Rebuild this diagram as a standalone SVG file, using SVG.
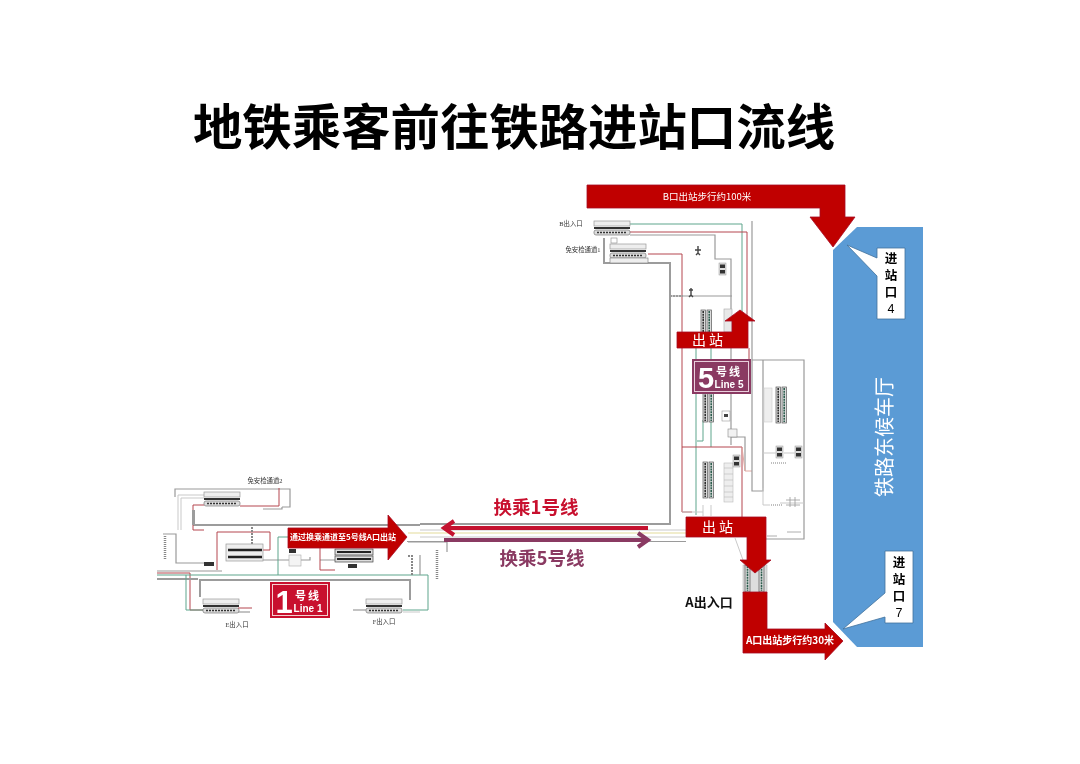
<svg xmlns="http://www.w3.org/2000/svg" width="1080" height="764" viewBox="0 0 1080 764">
<style>
text{font-family:"Noto Sans CJK SC","Liberation Sans",sans-serif}
.g{fill:none;stroke:#9a9a9a;stroke-width:1.2}
.G{fill:none;stroke:#9c9c9c;stroke-width:2}
.l{fill:none;stroke:#c9c9c9;stroke-width:1}
.r{fill:none;stroke:#b5474f;stroke-width:1}
.n{fill:none;stroke:#5fa58c;stroke-width:1}
.y{fill:none;stroke:#e3dc9a;stroke-width:1.2}
.p{fill:none;stroke:#e2a9a2;stroke-width:1}
.w{fill:#c00000;stroke:#a60a22;stroke-width:.8}
.t{fill:#fff;text-anchor:middle}
.s{fill:#333;font-size:6.4px;text-anchor:middle;font-family:"Liberation Serif","Noto Sans CJK SC",serif}
.c{fill:#000;font-size:12.5px;font-weight:700;text-anchor:middle}
.d{font-family:"Liberation Sans",sans-serif;font-weight:400}
</style>
<defs>
<filter id="soft" x="-5%" y="-5%" width="110%" height="110%"><feGaussianBlur stdDeviation=".35"/></filter>
<g id="sh">
<rect x="0" y="0" width="36" height="5" fill="#eee" stroke="#999" stroke-width=".7"/>
<rect x="0" y="6" width="36" height="2" fill="#333"/>
<rect x="0" y="9" width="36" height="5" fill="#ddd" stroke="#777" stroke-width=".7" rx="2"/>
<path d="M3 11.5H33" stroke="#333" stroke-width="1.4" stroke-dasharray="2 1"/>
</g>
<g id="sv">
<rect x="0" y="0" width="4.5" height="36" fill="#dcdcdc" stroke="#555" stroke-width=".7"/>
<rect x="6" y="0" width="4.5" height="36" fill="#dcdcdc" stroke="#555" stroke-width=".7"/>
<path d="M2.2 1V35" stroke="#2f2f2f" stroke-width="1.6" stroke-dasharray="2 .7"/>
<path d="M8.2 1V35" stroke="#2f5f50" stroke-width="1.6" stroke-dasharray="2 .7"/>
</g>
<g id="m"><rect x="0" y="0" width="7" height="12" fill="#ddd" stroke="#999" stroke-width=".5"/><rect x="1" y="1.5" width="5" height="3.5" fill="#333"/><rect x="1" y="7" width="5" height="3.5" fill="#333"/></g>
</defs>

<text x="514" y="145" font-size="49.4" font-weight="700" text-anchor="middle" fill="#000">地铁乘客前往铁路进站口流线</text>

<g id="plan" filter="url(#soft)">
<path class="n" d="M630 224H742V320"/>
<path class="r" d="M630 232H747V332"/>
<path class="g" d="M752 221V360"/>
<path class="G" d="M604 238V263H670V524H420"/>
<path class="r" d="M648 254H682V512H692"/>
<path class="g" d="M630 235H715V259H731V332"/>
<path class="g" d="M670 296H732"/>
<path class="G" d="M670 296H683" stroke-dasharray="2 1"/>
<use href="#sh" x="594" y="221"/>
<use href="#sh" x="610" y="244"/>
<rect x="610" y="258" width="38" height="5" fill="#eee" stroke="#888" stroke-width=".7"/>
<rect x="611" y="238" width="6" height="5" fill="#fff" stroke="#888" stroke-width=".6"/>
<use href="#m" x="719" y="263"/>
<path d="M698 246v7m-3-3h6m-5 5l2-2 2 2" stroke="#444" stroke-width="1.4" fill="none"/>
<path d="M691 288v7m-2-5h4m-4 7l2-2 2 2" stroke="#444" stroke-width="1.4" fill="none"/>
<use href="#sv" x="701" y="310"/>
<rect x="724" y="309" width="8" height="23" fill="#e8e8e8" stroke="#aaa" stroke-width=".6"/>
<path class="n" d="M696 348V515"/>
<path class="n" d="M711 348V363M711 420V447"/>
<path class="n" d="M703 420V441H697" stroke-width="1.3"/>
<path class="g" d="M731 348V445"/>
<path class="r" d="M682 447H742V517"/>
<path class="r" d="M749 348V360"/>
<path class="g" d="M731 437H745V471"/>
<path class="p" d="M742 447L745 471H752"/>
<path class="l" d="M682 512H703M711 505V516M703 505V516"/>
<use href="#sv" x="703" y="386"/>
<use href="#sv" x="703" y="462"/>
<rect x="724" y="463" width="9" height="39" fill="#eee" stroke="#bbb" stroke-width=".6"/>
<path d="M724 468h9M724 474h9M724 480h9M724 486h9M724 492h9M724 497h9" stroke="#bbb" stroke-width=".6"/>
<rect x="722" y="411" width="8" height="10" fill="#fff" stroke="#999" stroke-width=".6"/>
<rect x="724" y="414" width="4" height="3" fill="#444"/>
<rect x="728" y="429" width="9" height="8" fill="#f2f2f2" stroke="#888" stroke-width=".6"/>
<use href="#m" x="733" y="455"/>
<path class="g" d="M752 360H804V539H766"/>
<path class="g" d="M752 360V491H763V360"/>
<path class="l" d="M763 488V505H770M780 503H804"/>
<rect x="764" y="388" width="8" height="34" fill="#eee" stroke="#ccc" stroke-width=".6"/>
<use href="#sv" x="776" y="387"/>
<use href="#m" x="776" y="446"/><use href="#m" x="795" y="446"/>
<path class="l" d="M763 453H776M784 453H795"/>
<path d="M771 463h16M771 505h12" stroke="#aaa" stroke-width="1.500" stroke-dasharray="1 1"/>
<path d="M786 500h14M786 505h14M790 497v10M795 497v10M767 536h10M787 532h14" stroke="#999" stroke-width=".8"/>
<path class="G" d="M194 510V525H420"/>
<path class="y" d="M408 533H686"/>
<path class="l" d="M420 530H686M420 537H686"/>
<path class="g" d="M407 541.500H686"/>
<path class="l" d="M735 538L743 560M749 537L752 560"/>
<path class="g" d="M408 542H447V552"/>
<path class="g" d="M175 497V489H290V507H282M282 507V509H263"/>
<path class="l" d="M178 530V495H204"/>
<path class="l" d="M181 530V498H204"/>
<path class="r" d="M204 505H193V530H204"/>
<path class="G" d="M193 510V525"/>
<path class="r" d="M240 506H279V488"/>
<use href="#sh" x="204" y="492"/>
<path class="g" d="M163 534H176V563H210"/>
<path d="M165 536V560" stroke="#888" stroke-width="2.500" stroke-dasharray="1 1"/>
<rect x="204" y="562" width="10" height="4" fill="#333"/>
<path class="r" d="M217 532H270V550H263"/>
<path class="r" d="M217 532V570"/>
<path d="M252 527V544" stroke="#888" stroke-width="2" stroke-dasharray="2 1"/>
<rect x="226" y="544" width="37" height="17" fill="#eee" stroke="#999" stroke-width=".7"/>
<path d="M228 550H262M228 557H262" stroke="#222" stroke-width="2.400"/>
<path class="g" d="M157 571H222"/>
<path class="r" d="M157 573H190V610H203"/>
<path class="n" d="M157 575H428V610H403"/>
<path class="G" d="M157 579H198"/>
<path class="G" d="M200 597V580H410V600"/>
<path class="n" d="M186 575V610H203"/>
<use href="#sh" x="203" y="599"/>
<path class="r" d="M238 608H252"/><path class="g" d="M238 612H250"/>
<use href="#sh" x="366" y="599"/>
<path class="g" d="M353 610H366"/>
<path class="l" d="M403 612H420"/>
<path class="g" d="M263 560H310V557M320 560H335"/>
<rect x="289" y="555" width="12" height="11" fill="#f4f4f4" stroke="#aaa" stroke-width=".6"/>
<rect x="289" y="549" width="7" height="4" fill="#333"/>
<rect x="335" y="549" width="38" height="6" fill="#ddd" stroke="#444" stroke-width=".7"/>
<rect x="335" y="556" width="38" height="6" fill="#ddd" stroke="#444" stroke-width=".7"/>
<path d="M337 552H371M337 559H371" stroke="#222" stroke-width="2"/>
<rect x="348" y="564" width="9" height="4" fill="#333"/>
<path class="r" d="M320 548V570H335"/>
<path class="n" d="M278 575V537H288"/>
<path class="g" d="M420 555V575"/>
<path d="M437 550V580" stroke="#888" stroke-width="2.500" stroke-dasharray="1 1"/>
<path d="M408 556H412V575" stroke="#888" stroke-width="2" stroke-dasharray="2 1" fill="none"/>
<rect x="743" y="565" width="24" height="28" fill="#ddd" stroke="#aaa" stroke-width=".5"/>
<rect x="745" y="565" width="5" height="27" fill="#dcdcdc" stroke="#555" stroke-width=".7"/>
<path d="M747.500 566V591" stroke="#2f5f50" stroke-width="1.600" stroke-dasharray="2 .7"/>
<rect x="759" y="565" width="5" height="27" fill="#dcdcdc" stroke="#555" stroke-width=".7"/>
<path d="M761.500 566V591" stroke="#2f5f50" stroke-width="1.600" stroke-dasharray="2 .7"/>
</g>

<g id="labels-plan">
<text class="s" x="571" y="226">B出入口</text>
<text class="s" x="583" y="252">免安检通道1</text>
<text class="s" x="265" y="483">免安检通道2</text>
<text class="s" x="237" y="627">E出入口</text>
<text class="s" x="384" y="624">F出入口</text>
</g>

<g id="hall">
<path d="M857 227H923V647H857L833 622V250Z" fill="#5b9bd5"/>
<text transform="translate(892 437) rotate(-90)" font-size="20" fill="#fff" text-anchor="middle">铁路东候车厅</text>
</g>

<g id="gate-4">
<path d="M847 245L877 258V248H905V319H877V276Z" fill="#fff" stroke="#41719c" stroke-width=".8"/>
<text class="c" x="891" y="263">进</text><text class="c" x="891" y="280">站</text><text class="c" x="891" y="297">口</text><text class="c d" x="891" y="313">4</text>
</g>
<g id="gate-7">
<path d="M843 629L885 593V551H913V623H885V617Z" fill="#fff" stroke="#41719c" stroke-width=".8"/>
<text class="c" x="899" y="567">进</text><text class="c" x="899" y="584">站</text><text class="c" x="899" y="601">口</text><text class="c d" x="899" y="617">7</text>
</g>

<g id="arrow-b">
<path class="w" d="M587 185H845V217H855L833 247L810 217H820V208H587Z"/>
<text class="t" x="707" y="200" font-size="9.500">B口出站步行约100米</text>
</g>
<g id="arrow-up">
<path class="w" d="M677 332H732V321H725L740 310L755 321H748V348H677Z"/>
<text class="t" x="709" y="345" font-size="14" letter-spacing="3">出站</text>
</g>
<g id="arrow-down">
<path class="w" d="M686 517H766V560H771L755 573L740 560H747V537H686Z"/>
<text class="t" x="719" y="532" font-size="14" letter-spacing="3">出站</text>
</g>
<g id="arrow-a">
<path class="w" d="M743 592H767V629H825V623L843 641L825 660V653H743Z"/>
<text class="t" x="790" y="644" font-size="10" font-weight="700">A口出站步行约30米</text>
</g>
<text x="709" y="607" font-size="13" font-weight="700" text-anchor="middle" fill="#111">A出入口</text>

<g id="arrow-transfer">
<path class="w" d="M288 528H388V515L407 537L388 560V548H288Z"/>
<text class="t" x="343" y="540" font-size="8" font-weight="700">通过换乘通道至5号线A口出站</text>
</g>

<g id="connectors" fill="none" stroke-width="4">
<path d="M648 528H447" stroke="#c4122f"/>
<path d="M454 521L444 528L454 535" stroke="#c4122f"/>
<path d="M444 540H647" stroke="#8a3a62"/>
<path d="M638 533L648 540L638 547" stroke="#8a3a62"/>
</g>
<text x="536" y="514" font-size="18.500" font-weight="700" text-anchor="middle" fill="#c8102e">换乘1号线</text>
<text x="542" y="565" font-size="18.500" font-weight="700" text-anchor="middle" fill="#8a3a62">换乘5号线</text>

<g id="badge-5">
<rect x="692" y="359" width="59" height="35" fill="#8a3a62"/>
<rect x="694.500" y="361.500" width="54" height="30" fill="none" stroke="#e9cfdc" stroke-width="1"/>
<text x="706" y="388" font-size="29" font-weight="700" fill="#fff" text-anchor="middle" style="font-family:'Liberation Sans',sans-serif">5</text>
<text x="729" y="376" font-size="11" font-weight="700" fill="#fff" text-anchor="middle" letter-spacing="2">号线</text>
<text x="729" y="388" font-size="10" font-weight="700" fill="#fff" text-anchor="middle" style="font-family:'Liberation Sans',sans-serif">Line 5</text>
</g>
<g id="badge-1">
<rect x="270" y="582" width="60" height="36" fill="#c8102e"/>
<rect x="272.500" y="584.500" width="55" height="31" fill="none" stroke="#f5d0d0" stroke-width="1"/>
<text x="284" y="613" font-size="31" font-weight="700" fill="#fff" text-anchor="middle" style="font-family:'Liberation Sans',sans-serif">1</text>
<text x="308" y="600" font-size="11" font-weight="700" fill="#fff" text-anchor="middle" letter-spacing="2">号线</text>
<text x="308" y="612" font-size="10" font-weight="700" fill="#fff" text-anchor="middle" style="font-family:'Liberation Sans',sans-serif">Line 1</text>
</g>
</svg>
